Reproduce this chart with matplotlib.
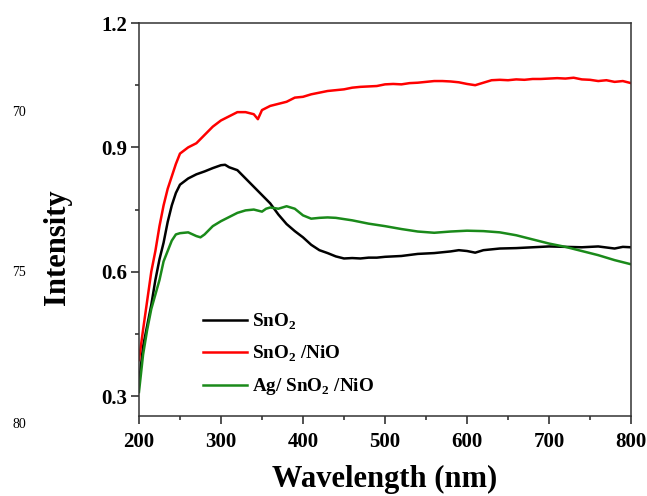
import matplotlib
matplotlib.use("Agg")
import matplotlib.pyplot as plt
from matplotlib.ticker import MultipleLocator

plt.rcParams["font.family"] = "Liberation Serif"
plt.rcParams["font.weight"] = "bold"
plt.rcParams["mathtext.fontset"] = "custom"
plt.rcParams["mathtext.rm"] = "Liberation Serif:bold"
plt.rcParams["mathtext.bf"] = "Liberation Serif:bold"

# SnO2
wl_sno2 = [200, 205, 210, 215, 220, 225, 230, 235, 240, 245, 250, 260, 270, 280, 290,
           300, 305, 310, 320, 330, 340, 350, 360, 370, 380, 390, 400, 410, 420, 430,
           440, 450, 460, 470, 480, 490, 500, 520, 540, 560, 580, 590, 600, 610, 620,
           640, 660, 680, 700, 720, 740, 760, 780, 790, 800]
int_sno2 = [0.33, 0.42, 0.47, 0.52, 0.58, 0.63, 0.67, 0.72, 0.76, 0.79, 0.81, 0.825, 0.835,
            0.842, 0.85, 0.857, 0.858, 0.852, 0.845, 0.825, 0.805, 0.785, 0.765, 0.738,
            0.715, 0.698, 0.683, 0.665, 0.652, 0.645, 0.637, 0.632, 0.633, 0.632, 0.634,
            0.634, 0.636, 0.638, 0.643, 0.645, 0.649, 0.652, 0.650, 0.646, 0.652, 0.656,
            0.657, 0.659, 0.661, 0.660, 0.659, 0.661, 0.656, 0.660, 0.659]

# SnO2/NiO
wl_nio = [200, 205, 210, 215, 220, 225, 230, 235, 240, 245, 250, 260, 270, 280, 290, 300,
          310, 320, 330, 340, 345, 350, 360, 370, 380, 390, 400, 410, 420, 430, 440, 450,
          460, 470, 480, 490, 500, 510, 520, 530, 540, 550, 560, 570, 580, 590, 600, 610,
          620, 630, 640, 650, 660, 670, 680, 690, 700, 710, 720, 730, 740, 750, 760, 770,
          780, 790, 800]
int_nio = [0.387, 0.46, 0.53, 0.60, 0.65, 0.71, 0.76, 0.80, 0.83, 0.86, 0.885, 0.90, 0.91,
           0.93, 0.95, 0.965, 0.975, 0.985, 0.985, 0.98, 0.968, 0.99, 1.0, 1.005, 1.01,
           1.02, 1.022, 1.028, 1.032, 1.036, 1.038, 1.04, 1.044, 1.046, 1.047, 1.048,
           1.052, 1.053, 1.052, 1.055, 1.056, 1.058, 1.06, 1.06, 1.059, 1.057, 1.053,
           1.05, 1.056, 1.062, 1.063, 1.062, 1.064, 1.063, 1.065, 1.065, 1.066, 1.067,
           1.066, 1.068, 1.064, 1.063, 1.06, 1.062, 1.058, 1.06, 1.055]

# Ag/SnO2/NiO
wl_ag = [200, 205, 210, 215, 220, 225, 230, 235, 240, 245, 250, 260, 270, 275, 280, 290,
         300, 310, 320, 330, 340, 350, 355, 360, 370, 380, 390, 400, 410, 420, 430, 440,
         460, 480, 500, 520, 540, 560, 580, 600, 620, 640, 660, 680, 700, 720, 740, 760,
         780, 800]
int_ag = [0.31, 0.40, 0.46, 0.51, 0.545, 0.58, 0.625, 0.65, 0.675, 0.69, 0.693, 0.695,
          0.686, 0.683, 0.69, 0.71, 0.722, 0.732, 0.742, 0.748, 0.75, 0.745, 0.752, 0.755,
          0.752, 0.758, 0.752, 0.736, 0.728, 0.73, 0.731, 0.73, 0.724, 0.716, 0.71, 0.703,
          0.697, 0.694, 0.697, 0.699, 0.698, 0.695, 0.688, 0.678, 0.668, 0.66, 0.65, 0.64,
          0.628, 0.618]

fig = plt.figure(figsize=(6.47, 4.96), dpi=100)
ax = fig.add_axes([0.2148, 0.1613, 0.7605, 0.7923])

ax.plot(wl_sno2, int_sno2, color="black", lw=1.8, label="SnO$_2$")
ax.plot(wl_nio, int_nio, color="#ff0000", lw=1.8, label="SnO$_2$ /NiO")
ax.plot(wl_ag, int_ag, color="#1a8a1a", lw=1.8, label="Ag/ SnO$_2$ /NiO")

ax.set_xlim(200, 800)
ax.set_ylim(0.252, 1.2)
ax.xaxis.set_major_locator(MultipleLocator(100))
ax.xaxis.set_minor_locator(MultipleLocator(50))
ax.yaxis.set_major_locator(MultipleLocator(0.3))
ax.yaxis.set_minor_locator(MultipleLocator(0.15))
ax.tick_params(which="both", direction="out", top=False, right=False, width=1.1,
               labelsize=15, colors="#222222")
ax.tick_params(which="major", length=5.5)
ax.tick_params(axis="y", which="major", pad=3)
ax.tick_params(axis="x", which="major", pad=6)
ax.tick_params(which="minor", length=3)
for s in ax.spines.values():
    s.set_linewidth(1.1)
    s.set_color("#333333")
for t in ax.get_xticklabels() + ax.get_yticklabels():
    t.set_fontweight("bold")
    t.set_color("black")

ax.set_xlabel("Wavelength (nm)", fontsize=22, fontweight="bold")
ax.set_ylabel("Intensity", fontsize=22, fontweight="bold")
ax.xaxis.set_label_coords(0.5, -0.162)
ax.yaxis.set_label_coords(-0.165, 0.43)
ax.xaxis.label.set_va("center")
ax.yaxis.label.set_va("center")

ax.legend(loc="upper left", bbox_to_anchor=(0.13, 0.265), frameon=False,
          fontsize=13.8, handlelength=2.3, handletextpad=0.25, labelspacing=0.62,
          borderpad=0, borderaxespad=0)

# line numbers in the page margin
for num, yp in [("70", 113), ("75", 272), ("80", 424)]:
    fig.text(19 / 647, 1 - yp / 496, num, fontsize=10, fontweight="normal",
             ha="center", va="center")

fig.savefig("out.png", dpi=100)
